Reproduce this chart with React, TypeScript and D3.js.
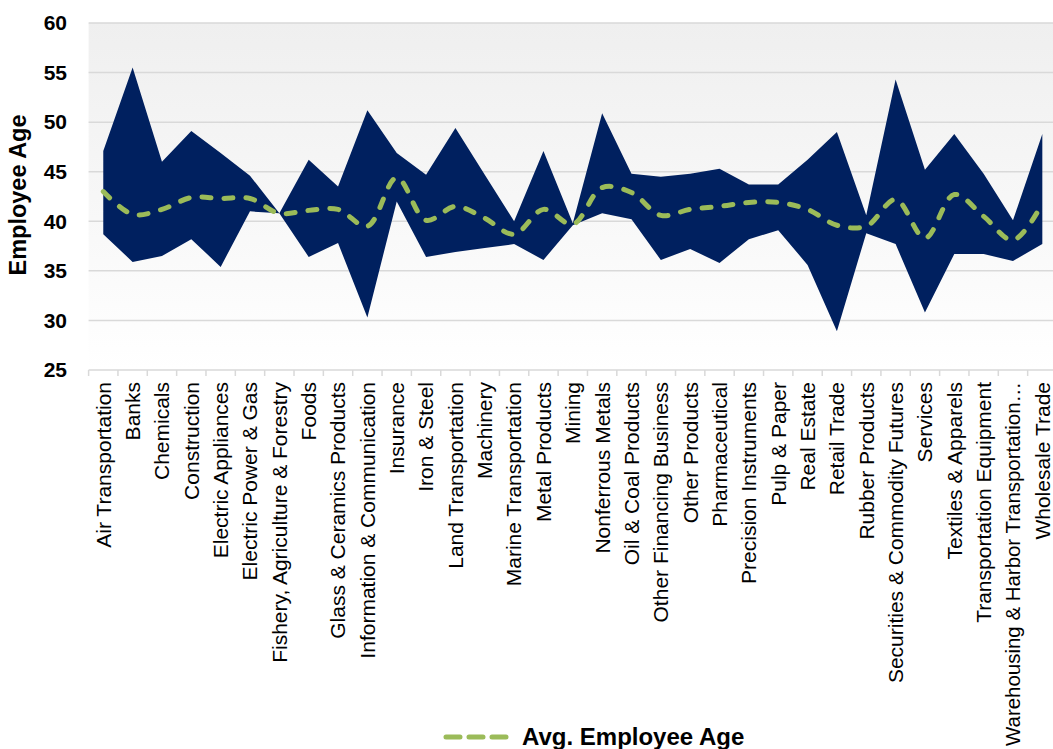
import React from "react";
import * as d3 from "d3";

const categories = [
  "Air Transportation", "Banks", "Chemicals", "Construction", "Electric Appliances",
  "Electric Power & Gas", "Fishery, Agriculture & Forestry", "Foods", "Glass & Ceramics Products",
  "Information & Communication", "Insurance", "Iron & Steel", "Land Transportation", "Machinery",
  "Marine Transportation", "Metal Products", "Mining", "Nonferrous Metals", "Oil & Coal Products",
  "Other Financing Business", "Other Products", "Pharmaceutical", "Precision Instruments",
  "Pulp & Paper", "Real Estate", "Retail Trade", "Rubber Products",
  "Securities & Commodity Futures", "Services", "Textiles & Apparels", "Transportation Equipment",
  "Warehousing & Harbor Transportation…", "Wholesale Trade",
];

const maxAge = [
  47.1, 55.5, 46.0, 49.1, 46.9, 44.6, 40.8, 46.2, 43.5, 51.2, 46.9, 44.7, 49.4, 44.7,
  40.0, 47.1, 39.8, 50.9, 44.8, 44.5, 44.8, 45.3, 43.7, 43.7, 46.2, 49.0, 40.6,
  54.3, 45.2, 48.8, 44.8, 40.1, 48.8,
];
const minAge = [
  38.7, 35.9, 36.5, 38.2, 35.4, 41.0, 40.8, 36.4, 37.8, 30.3, 42.0, 36.4, 36.9, 37.3,
  37.7, 36.1, 39.6, 40.8, 40.2, 36.1, 37.2, 35.8, 38.2, 39.1, 35.6, 28.9, 38.8,
  37.7, 30.8, 36.7, 36.7, 36.0, 37.7,
];
const avgAge = [
  43.0, 40.7, 41.2, 42.4, 42.3, 42.3, 40.8, 41.1, 41.2, 39.5, 44.4, 40.1, 41.5, 40.3,
  38.7, 41.2, 39.7, 43.4, 42.9, 40.6, 41.2, 41.5, 41.9, 41.9, 41.2, 39.6, 39.5,
  42.2, 38.3, 42.7, 40.5, 38.1, 41.8,
];
const yTicks = [25, 30, 35, 40, 45, 50, 55, 60];
const yTitle = "Employee Age";
const legendLabel = "Avg. Employee Age";

const W = 1053;
const H = 749;
const FONT = "'Liberation Sans', Arial, sans-serif";

export default function App() {
  const plotLeft = 88.6;
  const plotRight = 1057;
  const plotTop = 23;
  const plotBottom = 370;
  const step = (plotRight - plotLeft) / categories.length;
  const labelTop = 382;
  const maxLabelLen = H - labelTop - 3;

  const x = d3
    .scalePoint<string>()
    .domain(categories)
    .range([plotLeft + step / 2, plotRight - step / 2]);
  const y = d3.scaleLinear().domain([25, 60]).range([plotBottom, plotTop]);

  const idx = categories.map((_, i) => i);
  const area = d3
    .area<number>()
    .x((i) => x(categories[i])!)
    .y0((i) => y(minAge[i]))
    .y1((i) => y(maxAge[i]));
  const line = d3
    .line<number>()
    .x((i) => x(categories[i])!)
    .y((i) => y(avgAge[i]))
    .curve(d3.curveCatmullRom.alpha(0.5));

  const tickXs = d3.range(categories.length + 1).map((k) => plotLeft + k * step);

  return (
    <svg
      width={W}
      height={H}
      style={{ position: "absolute", left: 0, top: 0, background: "#fff" }}
      fontFamily={FONT}
    >
      <defs>
        <linearGradient id="bg" x1="0" y1="0" x2="0" y2="1">
          <stop offset="0" stopColor="#efefef" />
          <stop offset="1" stopColor="#ffffff" />
        </linearGradient>
      </defs>
      <rect x={plotLeft} y={plotTop} width={W - plotLeft} height={plotBottom - plotTop} fill="url(#bg)" />
      {yTicks.map((t) => (
        <line
          key={"g" + t}
          x1={plotLeft}
          x2={W}
          y1={y(t)}
          y2={y(t)}
          stroke="#d9d9d9"
          strokeWidth={1.5}
        />
      ))}
      {tickXs.map((tx, k) => (
        <line key={"t" + k} x1={tx} x2={tx} y1={plotBottom} y2={plotBottom + 6} stroke="#d9d9d9" strokeWidth={1.5} />
      ))}
      <path d={area(idx) ?? ""} fill="#00205f" />
      <path
        d={line(idx) ?? ""}
        fill="none"
        stroke="#9bbb59"
        strokeWidth={5}
        strokeDasharray="9 13"
        strokeLinecap="round"
      />
      {yTicks.map((t) => (
        <text
          key={"yl" + t}
          x={67}
          y={y(t)}
          dy="0.35em"
          textAnchor="end"
          fontSize={21}
          fontWeight="bold"
          fill="#000"
        >
          {t}
        </text>
      ))}
      <text
        transform={`translate(26,195) rotate(-90)`}
        textAnchor="middle"
        fontSize={23.5}
        fontWeight="bold"
        fill="#000"
      >
        {yTitle}
      </text>
      {categories.map((c) => {
        const long = c.length > 32;
        return (
          <text
            key={"xl" + c}
            transform={`translate(${x(c)},${labelTop}) rotate(-90)`}
            dy="0.35em"
            textAnchor="end"
            fontSize={21}
            fill="#000"
            {...(long ? { textLength: maxLabelLen, lengthAdjust: "spacingAndGlyphs" } : {})}
          >
            {c}
          </text>
        );
      })}
      <line x1={446} x2={510} y1={737} y2={737} stroke="#9bbb59" strokeWidth={5} strokeDasharray="14 9" strokeLinecap="round" />
      <text x={522} y={745} fontSize={24} fontWeight="bold" fill="#000">
        {legendLabel}
      </text>
    </svg>
  );
}
